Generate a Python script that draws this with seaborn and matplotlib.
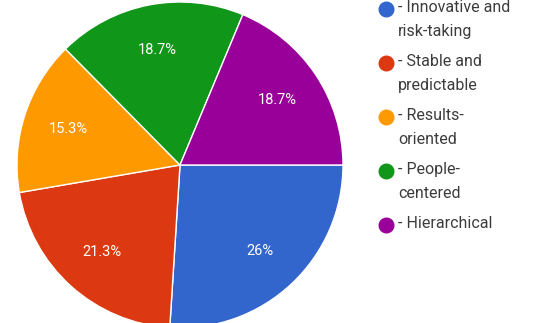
import matplotlib
matplotlib.use("Agg")
import matplotlib.pyplot as plt
from matplotlib.lines import Line2D
import seaborn as sns

categories = ["- Innovative and\nrisk-taking", "- Stable and\npredictable",
              "- Results-\noriented", "- People-\ncentered", "- Hierarchical"]
shares = [26.0, 21.3, 15.3, 18.7, 18.7]
pct_labels = ["26%", "21.3%", "15.3%", "18.7%", "18.7%"]
colors = ["#3366CC", "#DC3912", "#FF9900", "#109618", "#990099"]

sns.set_theme(style="white")
plt.rcParams["font.family"] = ["Roboto", "DejaVu Sans"]

W, H = 547, 323
fig = plt.figure(figsize=(W / 100, H / 100), dpi=100)
fig.patch.set_facecolor("white")

# pie axes: centre (180,165) px, radius 163 px
cx, cy, r = 180, 165, 163
ax = fig.add_axes([(cx - r) / W, (H - cy - r) / H, 2 * r / W, 2 * r / H])

wedges, texts, autotexts = ax.pie(
    shares, colors=colors, startangle=0, counterclock=False, radius=1.0,
    autopct="%1.1f%%", pctdistance=0.72,
    wedgeprops=dict(edgecolor="white", linewidth=1.0),
)
for t, lab in zip(autotexts, pct_labels):
    t.set_text(lab)
    t.set_color("white")
    t.set_fontsize(10.5)

ax.set_xlim(-1, 1)
ax.set_ylim(-1, 1)
ax.set_aspect("equal")
ax.axis("off")

# legend drawn as marker + text rows
y0 = 9
for i, (lab, col) in enumerate(zip(categories, colors)):
    y = y0 + i * 54
    fig.add_artist(Line2D([386 / W], [1 - y / H], marker="o", markersize=10.5,
                          color=col, linestyle="none", transform=fig.transFigure))
    fig.text(398 / W, 1 - (y - 9) / H, lab, ha="left", va="top",
             fontsize=11.5, color="#3c3c3c", linespacing=1.75)

fig.savefig("out.png", dpi=100, facecolor="white")
